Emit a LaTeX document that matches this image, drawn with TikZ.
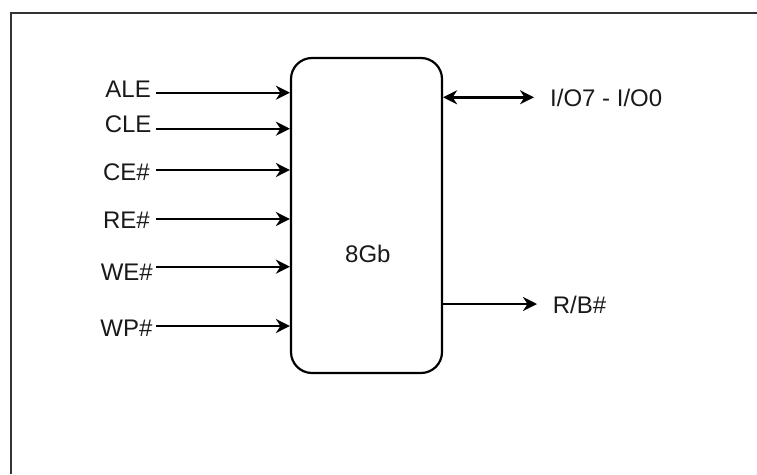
\documentclass[tikz,border=0pt]{standalone}
\usepackage{fontspec}
\setmainfont{Liberation Sans}
\usetikzlibrary{arrows.meta}
\begin{document}
\begin{tikzpicture}[x=1pt,y=-1pt,
  lbl/.style={inner sep=0pt,font=\fontsize{24}{28}\selectfont,text=black!90},
  tip/.style={Stealth[length=14pt,width=14pt,inset=4.5pt]},
  sig/.style={line width=2.4pt,-{Stealth[length=14pt,width=14pt,inset=4.5pt]}},
  bidir/.style={line width=2.4pt,{Stealth[length=14pt,width=14pt,inset=4.5pt]}-{Stealth[length=14pt,width=14pt,inset=4.5pt]}},
  chipbox/.style={draw,line width=2.2pt,rounded corners=21pt,minimum width=151pt,minimum height=315pt,inner sep=0pt}]
\useasboundingbox (0,0) rectangle (757,474);
\draw[line width=1.4pt,black!80] (11,474) -- (11,13) -- (757,13);
\node[chipbox] (chip) at (366.5,215.5) {};
\node[lbl,anchor=base west] (cap) at (345,262) {8Gb};
% input labels
\node[lbl,anchor=base east] (ale) at (151,97) {ALE};
\node[lbl,anchor=base east] (cle) at (151.7,132.3) {CLE};
\node[lbl,anchor=base east] (ce) at (150,180) {CE\#};
\node[lbl,anchor=base east] (re) at (150,228) {RE\#};
\node[lbl,anchor=base east] (we) at (153,280.7) {WE\#};
\node[lbl,anchor=base east] (wp) at (152.7,336.7) {WP\#};
\coordinate (s1) at (156,92.7);
\coordinate (s2) at (156,128.7);
\coordinate (s3) at (156,170);
\coordinate (s4) at (156,219);
\coordinate (s5) at (156,266.7);
\coordinate (s6) at (156,326);
\foreach \s in {s1,s2,s3,s4,s5,s6} \draw[sig] (\s) -- (\s -| chip.west);
% outputs
\node[lbl,anchor=base west] (io) at (550,106) {I/O7 - I/O0};
\node[lbl,anchor=base west] (rb) at (552.7,313.3) {R/B\#};
\coordinate (e1) at (534,97.3);
\coordinate (e2) at (537,304);
\draw[bidir] (e1 -| chip.east) -- (e1);
\draw[sig] (e2 -| chip.east) -- (e2);
\end{tikzpicture}
\end{document}
